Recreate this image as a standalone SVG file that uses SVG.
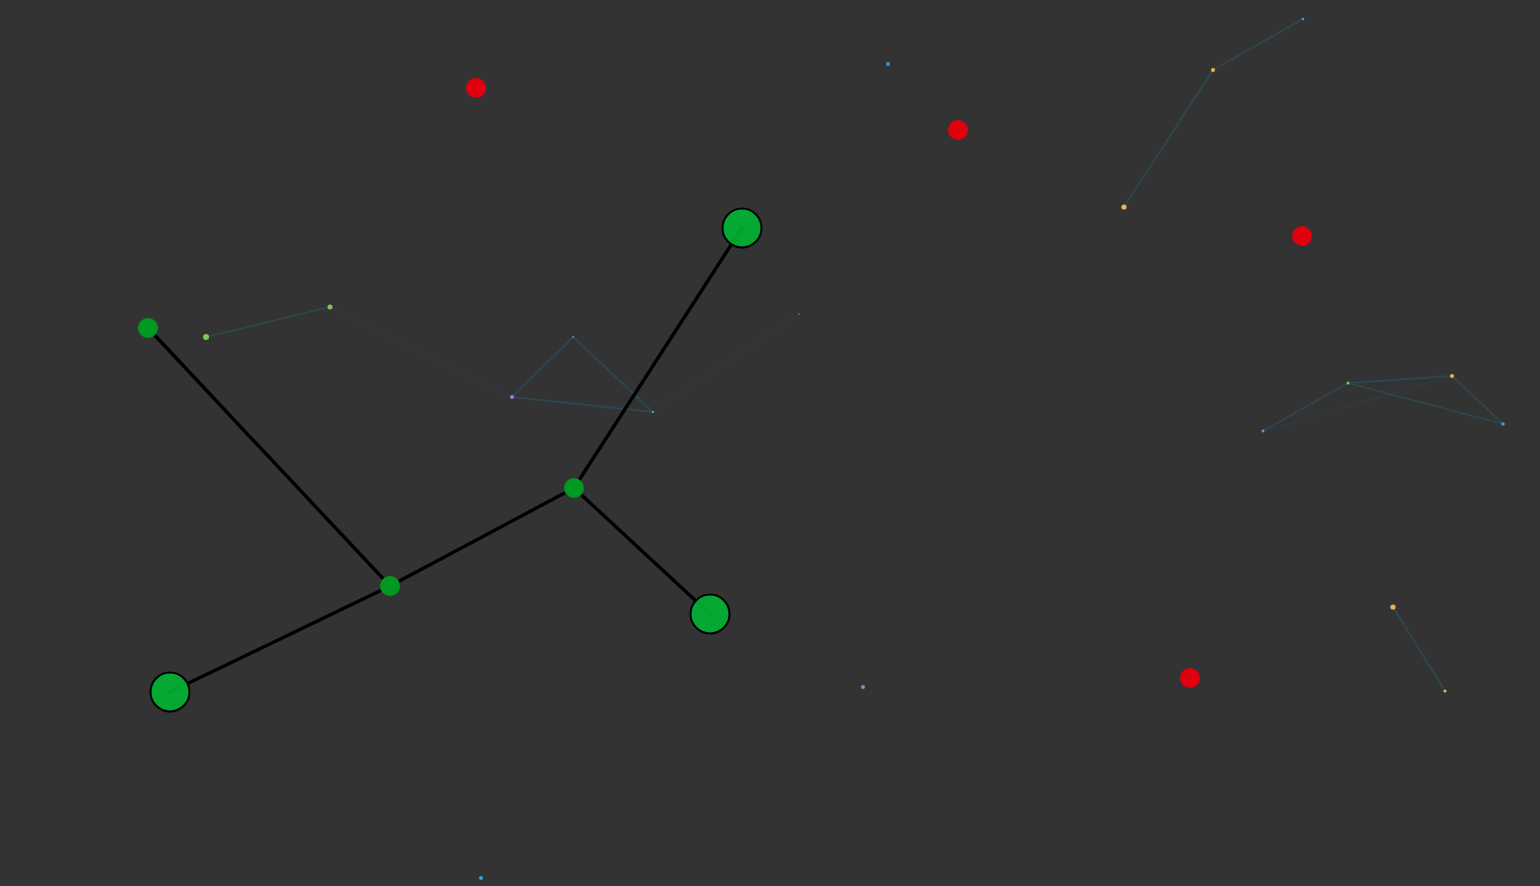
<svg xmlns="http://www.w3.org/2000/svg" width="1540" height="886" viewBox="0 0 1540 886">
<style>
.bg{fill:#333333}
.e{stroke:#000;stroke-width:3.4;stroke-linecap:round;fill:none}
.f{stroke:#2e4650;stroke-width:1.8;fill:none}
.ff{stroke:#2e3b41;stroke-width:1.5;fill:none}
.big{fill:#00b533;fill-opacity:0.9;stroke:#000;stroke-width:2}
.sm{fill:#009922}
.red{fill:#e0000f}
.g{fill:#7cc95a}
.y{fill:#e8b94a}
.b{fill:#3a9fd6}
.p{fill:#a27be0}
</style>
<rect class="bg" x="0" y="0" width="1540" height="886"/>
<g id="connectors">
<line class="ff" x1="330" y1="307" x2="512" y2="397"/>
<line class="ff" x1="653" y1="412" x2="799" y2="314"/>
<line class="ff" x1="1263" y1="431" x2="1452" y2="376"/>
<line class="f" x1="206" y1="337" x2="330" y2="307"/>
<line class="f" x1="512" y1="397" x2="573" y2="337"/>
<line class="f" x1="573" y1="337" x2="653" y2="412"/>
<line class="f" x1="653" y1="412" x2="512" y2="397"/>
<line class="f" x1="1303" y1="19" x2="1213" y2="70"/>
<line class="f" x1="1213" y1="70" x2="1124" y2="207"/>
<line class="f" x1="1263" y1="431" x2="1348" y2="383"/>
<line class="f" x1="1348" y1="383" x2="1452" y2="376"/>
<line class="f" x1="1452" y1="376" x2="1503" y2="424"/>
<line class="f" x1="1348" y1="383" x2="1503" y2="424"/>
<line class="f" x1="1393" y1="607" x2="1445" y2="691"/>
<line class="e" x1="148" y1="328" x2="390" y2="586"/>
<line class="e" x1="390" y1="586" x2="574" y2="488"/>
<line class="e" x1="574" y1="488" x2="742" y2="228"/>
<line class="e" x1="574" y1="488" x2="710" y2="614"/>
<line class="e" x1="390" y1="586" x2="170" y2="692"/>
</g>
<g id="n1"><circle class="big" cx="742" cy="228" r="19.5"/></g>
<g id="n2"><circle class="big" cx="170" cy="692" r="19.5"/></g>
<g id="n3"><circle class="big" cx="710" cy="614" r="19.5"/></g>
<g id="n4"><circle class="sm" cx="148" cy="328" r="10"/></g>
<g id="n5"><circle class="sm" cx="390" cy="586" r="10"/></g>
<g id="n6"><circle class="sm" cx="574" cy="488" r="10"/></g>
<g id="r1"><circle class="red" cx="476" cy="88" r="10"/></g>
<g id="r2"><circle class="red" cx="958" cy="130" r="10"/></g>
<g id="r3"><circle class="red" cx="1302" cy="236" r="10"/></g>
<g id="r4"><circle class="red" cx="1190" cy="678" r="10"/></g>
<g id="d1"><circle class="g" cx="206" cy="337" r="3"/></g>
<g id="d2"><circle class="g" cx="330" cy="307" r="2.5"/></g>
<g id="d3"><circle class="p" cx="512" cy="397" r="2"/></g>
<g id="d4"><circle class="b" cx="573" cy="337" r="1"/></g>
<g id="d5"><circle class="g" cx="653" cy="412" r="1"/></g>
<g id="d6"><circle class="b" cx="799" cy="314" r="0.8"/></g>
<g id="d7"><circle class="b" cx="1303" cy="19" r="1.3"/></g>
<g id="d8"><circle class="y" cx="1213" cy="70" r="2"/></g>
<g id="d9"><circle class="y" cx="1124" cy="207" r="2.6"/></g>
<g id="d10"><circle class="p" cx="1263" cy="431" r="1.4"/></g>
<g id="d11"><circle class="g" cx="1348" cy="383" r="1.5"/></g>
<g id="d12"><circle class="y" cx="1452" cy="376" r="2"/></g>
<g id="d13"><circle class="b" cx="1503" cy="424" r="1.8"/></g>
<g id="d14"><circle class="y" cx="1393" cy="607" r="2.6"/></g>
<g id="d15"><circle class="y" cx="1445" cy="691" r="1.6"/></g>
<g id="d16"><circle class="b" cx="888" cy="64" r="2"/></g>
<g id="d17"><circle class="p" cx="863" cy="687" r="2"/></g>
<g id="d18"><circle class="b" cx="481" cy="878" r="2"/></g>
</svg>
